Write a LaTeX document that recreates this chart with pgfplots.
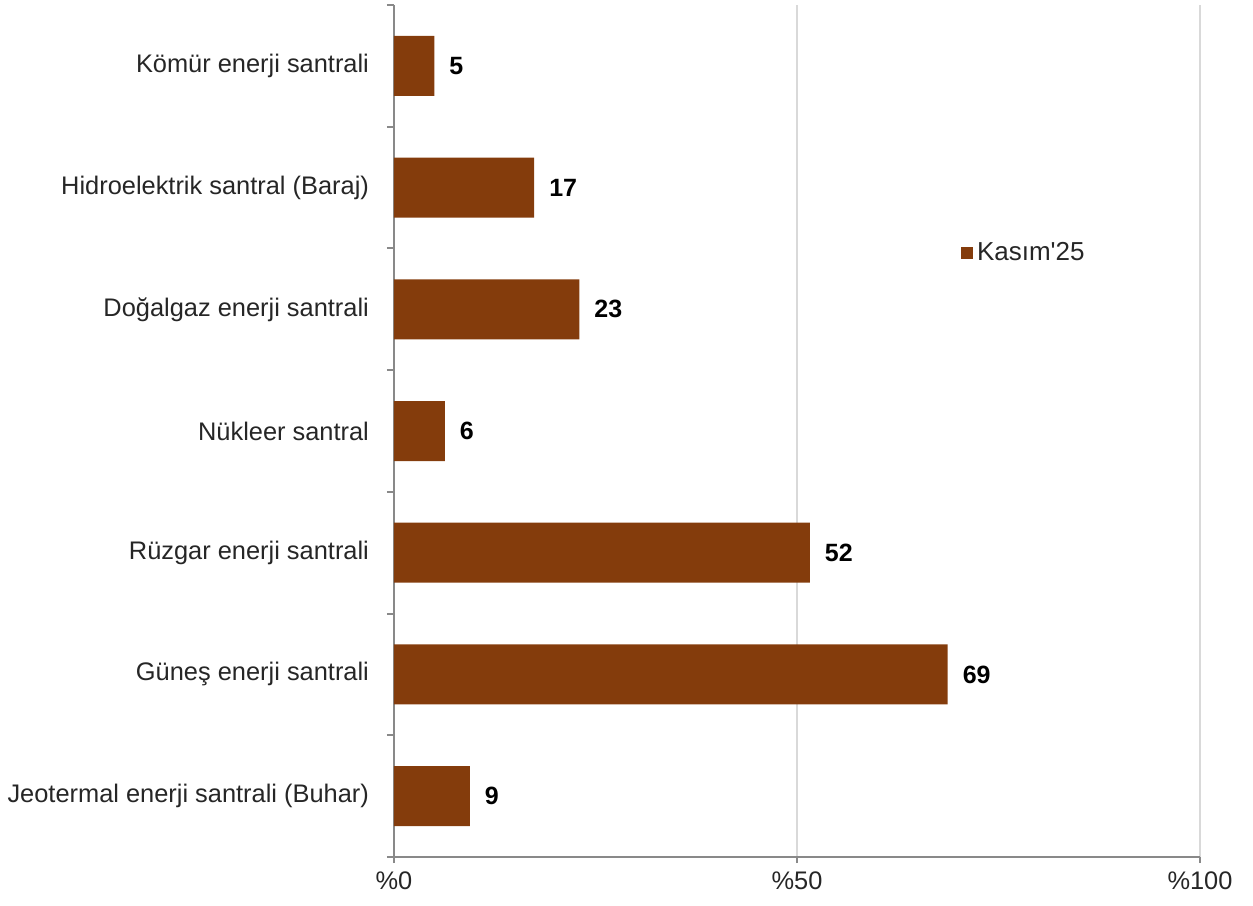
\documentclass[border=0pt]{standalone}
\usepackage{pgfplots}
\pgfplotsset{compat=1.18}
\usepackage{fontspec}
\setmainfont{Liberation Sans}[Ligatures=TeXReset]
\definecolor{barbrown}{HTML}{843C0C}
\definecolor{axisgray}{HTML}{898989}
\definecolor{gridgray}{HTML}{D9D9D9}
\definecolor{txt}{HTML}{262626}
\begin{document}
\begin{tikzpicture}
\path[use as bounding box] (0,0) rectangle (626.5pt,452.5pt);
\begin{axis}[
  at={(197pt,24pt)}, anchor=south west,
  scale only axis, width=403pt, height=426pt,
  xbar, bar width=30pt,
  xmin=0, xmax=100,
  ymin=-0.5, ymax=6.5, y dir=reverse,
  axis x line*=bottom, axis y line*=left,
  axis line style={axisgray, line width=1pt},
  xtick={0,50,100}, xticklabels={\%0,\%50,\%100},
  xmajorgrids, major grid style={gridgray, line width=0.6pt},
  ytick={0,...,6},
  yticklabels={Kömür enerji santrali,Hidroelektrik santral (Baraj),Doğalgaz enerji santrali,Nükleer santral,Rüzgar enerji santrali,Güneş enerji santrali,Jeotermal enerji santrali (Buhar)},
  minor ytick={-0.5,0.5,...,6.5},
  tick align=outside,
  major tick length=3pt,
  y tick style={draw=none},
  minor y tick style={draw=axisgray, line width=1pt},
  minor tick length=3.5pt,
  x tick style={axisgray, line width=1pt},
  tick label style={font=\fontsize{12.7}{15}\selectfont, text=txt},
  yticklabel style={xshift=-6pt},
  xticklabel style={yshift=-1pt},
  point meta=explicit symbolic,
  nodes near coords,
  nodes near coords style={font=\fontsize{12.5}{15}\selectfont\bfseries, text=black, anchor=west, xshift=4pt},
  legend style={at={(0.703,0.709)}, anchor=west, draw=none, fill=none, font=\fontsize{13}{15}\selectfont, text=txt, inner sep=0pt},
  legend image code/.code={\fill[barbrown] (0pt,-3pt) rectangle (6pt,3pt);},
  clip=false,
]
\addplot[fill=barbrown, draw=none] coordinates {
  (5,0) [5] (17.4,1) [17] (23,2) [23] (6.3,3) [6] (51.6,4) [52] (68.7,5) [69] (9.4,6) [9]
};
\addlegendentry{Kasım'25}
\end{axis}
\end{tikzpicture}
\end{document}
